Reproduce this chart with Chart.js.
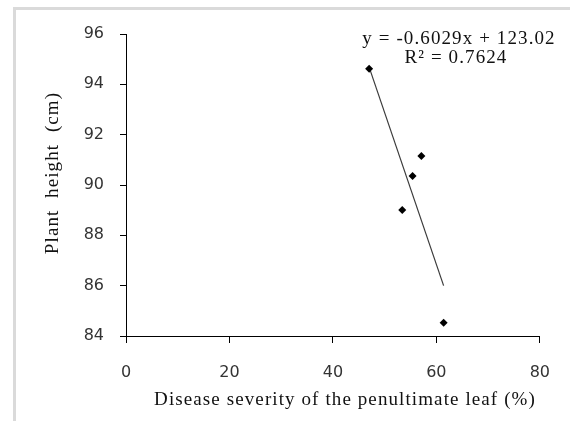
<!DOCTYPE html>
<html>
<head>
<meta charset="utf-8">
<script src="https://cdn.jsdelivr.net/npm/chart.js@4.4.1/dist/chart.umd.min.js"></script>
<style>
  html, body { margin: 0; padding: 0; background: #fff; overflow: hidden; }
  #wrap { position: relative; width: 570px; height: 421px; }
  #frame {
    position: absolute; left: 13px; top: 7px; width: 600px; height: 500px;
    border-left: 3px solid #dadada; border-top: 3px solid #dadada;
  }
  #plot { position: absolute; left: 0; top: 0; }
</style>
</head>
<body>
<div id="wrap">
  <div id="frame"></div>
  <canvas id="plot" width="570" height="421"></canvas>
</div>
<script>
// data
const severity = [47.0, 53.4, 55.4, 57.1, 61.4];   // disease severity (%)
const height = [94.62, 89.01, 90.36, 91.15, 84.53]; // plant height (cm)

// trend line printed on the chart
const slope = -0.6029;
const intercept = 123.02;
const rSquared = 0.7624;

const xTicks = [0, 20, 40, 60, 80];
const yTicks = [84, 86, 88, 90, 92, 94, 96];

const xTitle = 'Disease severity of the penultimate leaf (%)';
const yTitle = 'Plant  height  (cm)';

const points = severity.map((x, i) => ({ x: x, y: height[i] }));
const xMin = Math.min(...severity);
const xMax = Math.max(...severity);
const trend = [xMin, xMax].map(x => ({ x: x, y: slope * x + intercept }));

const serif = '"Liberation Serif", "Times New Roman", serif';

//draws the axis titles and the equation like excel does
const textPlugin = {
  id: 'excelText',
  afterDraw(chart) {
    const ctx = chart.ctx;
    ctx.save();
    ctx.fillStyle = '#111';
    ctx.font = '19px ' + serif;
    ctx.letterSpacing = '1.1px';
    ctx.textAlign = 'center';
    ctx.textBaseline = 'middle';

    ctx.fillText(xTitle, 345, 400);

    const eq = 'y = ' + slope.toFixed(4) + 'x + ' + intercept.toFixed(2);
    ctx.fillText(eq, 459, 39);
    ctx.fillText('R² = ' + rSquared.toFixed(4), 456, 58);

    ctx.translate(53, 173);
    ctx.rotate(-Math.PI / 2);
    ctx.fillText(yTitle, 0, 0);
    ctx.restore();
  }
};

const tickFont = { family: '"DejaVu Sans", sans-serif', size: 16 };

new Chart(document.getElementById('plot').getContext('2d'), {
  type: 'scatter',
  data: {
    datasets: [{
      label: 'Plant height',
      data: points,
      pointStyle: 'rectRot',
      pointRadius: 4,
      pointHoverRadius: 4,
      backgroundColor: '#000',
      borderColor: '#000',
      borderWidth: 0
    }, {
      label: 'Linear',
      type: 'line',
      data: trend,
      borderColor: '#3a3a3a',
      borderWidth: 1.2,
      pointRadius: 0,
      fill: false
    }]
  },
  options: {
    responsive: false,
    animation: false,
    events: [],
    layout: { padding: { left: 0, top: 34, right: 26, bottom: 0 } },
    plugins: {
      legend: { display: false },
      tooltip: { enabled: false }
    },
    scales: {
      x: {
        type: 'linear',
        min: 0,
        max: 80,
        afterBuildTicks: scale => { scale.ticks = xTicks.map(v => ({ value: v })); },
        afterFit: scale => { scale.height = 85; },
        border: { color: '#000', width: 1 },
        grid: { display: true, drawOnChartArea: false, drawTicks: true, tickLength: 7, color: '#000' },
        ticks: { font: tickFont, color: '#333', padding: 20, maxRotation: 0 }
      },
      y: {
        type: 'linear',
        min: 84,
        max: 96,
        afterBuildTicks: scale => { scale.ticks = yTicks.map(v => ({ value: v })); },
        afterFit: scale => { scale.width = 126; },
        border: { color: '#000', width: 1 },
        grid: { display: true, drawOnChartArea: false, drawTicks: true, tickLength: 6, color: '#000' },
        ticks: { font: tickFont, color: '#333', padding: 16 }
      }
    }
  },
  plugins: [textPlugin]
});
</script>
</body>
</html>
